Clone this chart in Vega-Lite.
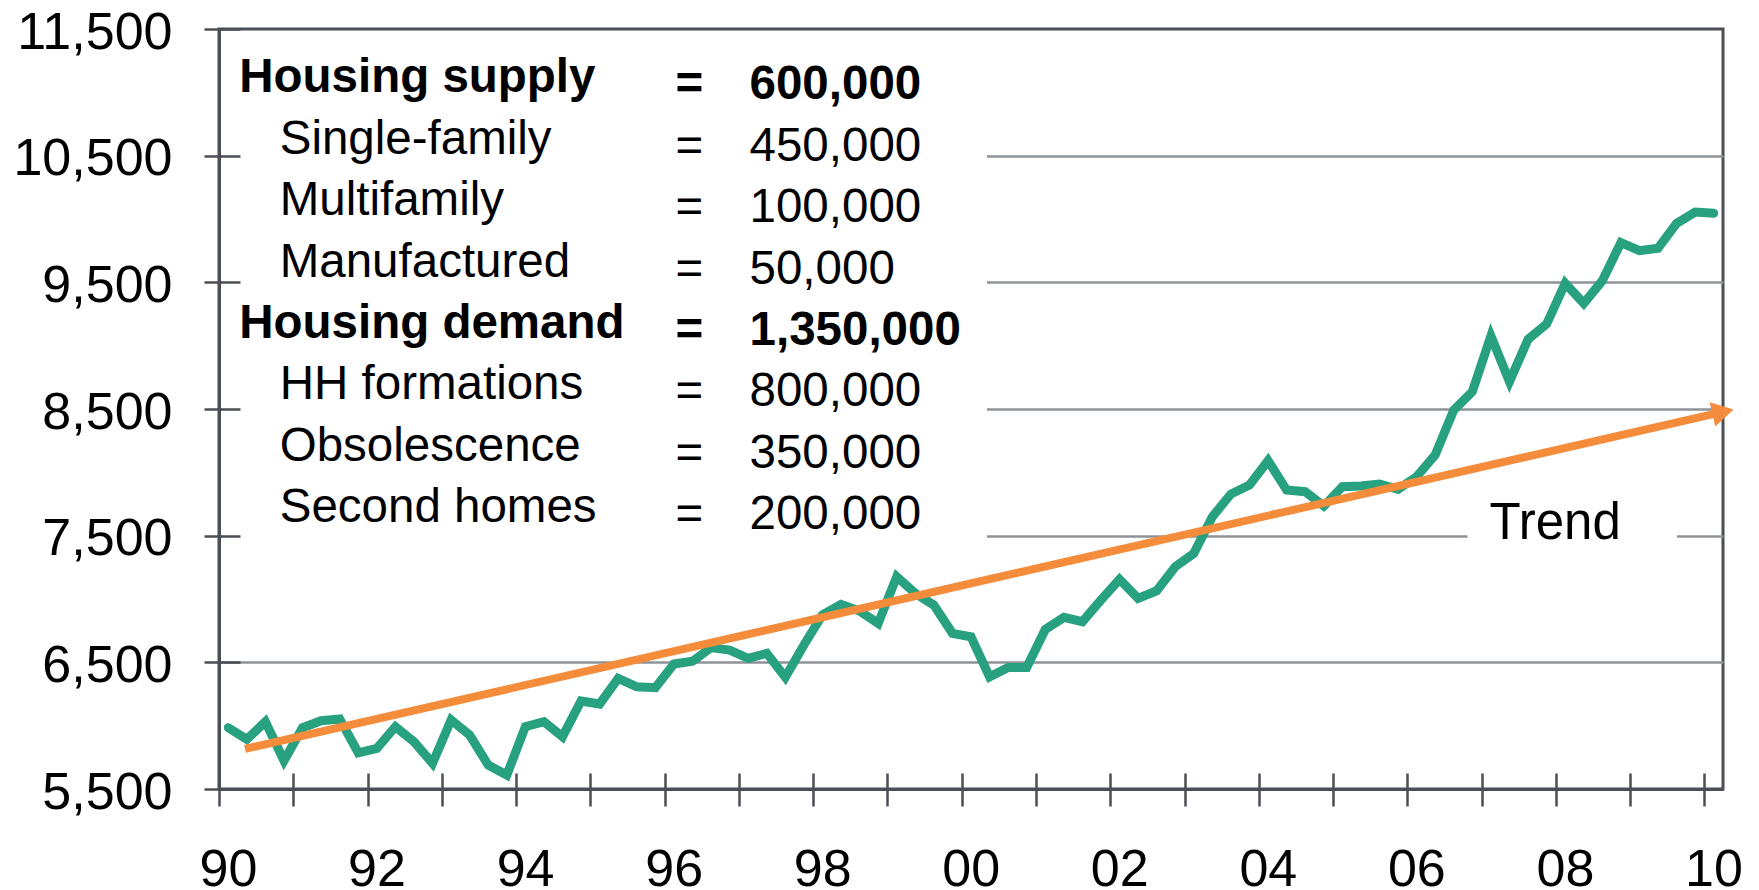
{
  "$schema": "https://vega.github.io/schema/vega-lite/v6.json",
  "width": 1504,
  "height": 760,
  "autosize": {"type": "none"},
  "padding": {"left": 219, "top": 29, "right": 36, "bottom": 101},
  "background": "white",
  "config": {
    "view": {"stroke": "#4a4f55", "strokeWidth": 3},
    "font": "Liberation Sans",
    "text": {"font": "Liberation Sans", "color": "#000000"}
  },
  "data": {"values": [{}]},
  "datasets": {
    "series": [
      {"t": 1990.125, "v": 5984}, {"t": 1990.375, "v": 5892}, {"t": 1990.625, "v": 6031}, {"t": 1990.875, "v": 5723},
      {"t": 1991.125, "v": 5984}, {"t": 1991.375, "v": 6039}, {"t": 1991.625, "v": 6053}, {"t": 1991.875, "v": 5786},
      {"t": 1992.125, "v": 5821}, {"t": 1992.375, "v": 5992}, {"t": 1992.625, "v": 5873}, {"t": 1992.875, "v": 5703},
      {"t": 1993.125, "v": 6045}, {"t": 1993.375, "v": 5926}, {"t": 1993.625, "v": 5689}, {"t": 1993.875, "v": 5610},
      {"t": 1994.125, "v": 5992}, {"t": 1994.375, "v": 6031}, {"t": 1994.625, "v": 5913}, {"t": 1994.875, "v": 6195},
      {"t": 1995.125, "v": 6171}, {"t": 1995.375, "v": 6374}, {"t": 1995.625, "v": 6307}, {"t": 1995.875, "v": 6300},
      {"t": 1996.125, "v": 6487}, {"t": 1996.375, "v": 6508}, {"t": 1996.625, "v": 6616}, {"t": 1996.875, "v": 6597},
      {"t": 1997.125, "v": 6532}, {"t": 1997.375, "v": 6571}, {"t": 1997.625, "v": 6382}, {"t": 1997.875, "v": 6637},
      {"t": 1998.125, "v": 6874}, {"t": 1998.375, "v": 6958}, {"t": 1998.625, "v": 6905}, {"t": 1998.875, "v": 6808},
      {"t": 1999.125, "v": 7176}, {"t": 1999.375, "v": 7045}, {"t": 1999.625, "v": 6952}, {"t": 1999.875, "v": 6729},
      {"t": 2000.125, "v": 6702}, {"t": 2000.375, "v": 6386}, {"t": 2000.625, "v": 6460}, {"t": 2000.875, "v": 6460},
      {"t": 2001.125, "v": 6760}, {"t": 2001.375, "v": 6855}, {"t": 2001.625, "v": 6821}, {"t": 2001.875, "v": 6992},
      {"t": 2002.125, "v": 7155}, {"t": 2002.375, "v": 7005}, {"t": 2002.625, "v": 7065}, {"t": 2002.875, "v": 7255},
      {"t": 2003.125, "v": 7360}, {"t": 2003.375, "v": 7650}, {"t": 2003.625, "v": 7829}, {"t": 2003.875, "v": 7900},
      {"t": 2004.125, "v": 8092}, {"t": 2004.375, "v": 7860}, {"t": 2004.625, "v": 7847}, {"t": 2004.875, "v": 7734},
      {"t": 2005.125, "v": 7887}, {"t": 2005.375, "v": 7892}, {"t": 2005.625, "v": 7908}, {"t": 2005.875, "v": 7866},
      {"t": 2006.125, "v": 7966}, {"t": 2006.375, "v": 8137}, {"t": 2006.625, "v": 8492}, {"t": 2006.875, "v": 8637},
      {"t": 2007.125, "v": 9076}, {"t": 2007.375, "v": 8716}, {"t": 2007.625, "v": 9050}, {"t": 2007.875, "v": 9171},
      {"t": 2008.125, "v": 9492}, {"t": 2008.375, "v": 9334}, {"t": 2008.625, "v": 9513}, {"t": 2008.875, "v": 9813},
      {"t": 2009.125, "v": 9750}, {"t": 2009.375, "v": 9769}, {"t": 2009.625, "v": 9966}, {"t": 2009.875, "v": 10055},
      {"t": 2010.125, "v": 10045}
    ],
    "trend": [
      {"t": 1990.35, "v": 5816, "end": false},
      {"t": 2010.25, "v": 8477, "end": true}
    ],
    "balance": [
      {"row": 1, "item": "Housing supply", "amount": "600,000", "kind": "total"},
      {"row": 2, "item": "Single-family", "amount": "450,000", "kind": "component"},
      {"row": 3, "item": "Multifamily", "amount": "100,000", "kind": "component"},
      {"row": 4, "item": "Manufactured", "amount": "50,000", "kind": "component"},
      {"row": 5, "item": "Housing demand", "amount": "1,350,000", "kind": "total"},
      {"row": 6, "item": "HH formations", "amount": "800,000", "kind": "component"},
      {"row": 7, "item": "Obsolescence", "amount": "350,000", "kind": "component"},
      {"row": 8, "item": "Second homes", "amount": "200,000", "kind": "component"}
    ]
  },
  "resolve": {"scale": {"y": "independent"}, "axis": {"x": "independent", "y": "independent"}},
  "layer": [
    {
      "mark": {"type": "rect", "fill": "white"},
      "encoding": {
        "x": {"datum": 1990.04, "type": "quantitative", "axis": null},
        "x2": {"datum": 2000.34},
        "y": {"datum": 7100, "type": "quantitative", "scale": {"domain": [5500, 11500], "nice": false, "zero": false}, "axis": null},
        "y2": {"datum": 11300}
      }
    },
    {
      "mark": {"type": "rect", "fill": "white"},
      "encoding": {
        "x": {"datum": 2006.81, "type": "quantitative", "axis": null},
        "x2": {"datum": 2009.63},
        "y": {"datum": 7430, "type": "quantitative", "scale": {"domain": [5500, 11500], "nice": false, "zero": false}, "axis": null},
        "y2": {"datum": 7570}
      }
    },
    {
      "data": {"name": "series"},
      "mark": {"type": "line", "color": "#27a17f", "strokeWidth": 9, "strokeCap": "round", "strokeJoin": "miter"},
      "encoding": {
        "x": {
          "field": "t", "type": "quantitative",
          "scale": {"domain": [1990, 2010.25], "nice": false, "zero": false},
          "axis": {
            "orient": "bottom", "title": null, "zindex": 0,
            "values": [1990,1991,1992,1993,1994,1995,1996,1997,1998,1999,2000,2001,2002,2003,2004,2005,2006,2007,2008,2009,2010],
            "labelExpr": "datum.value % 2 == 0 ? slice(format(datum.value, 'd'), 2) : ''",
            "grid": false, "domain": true, "domainColor": "#4a4f55", "domainWidth": 3,
            "ticks": true, "tickSize": 17, "tickColor": "#4a4f55", "tickWidth": 2.5,
            "labelFont": "Liberation Sans", "labelFontSize": 52, "labelColor": "#000000",
            "labelPadding": 38, "labelOffset": 9, "labelFlush": false, "labelOverlap": false,
            "labelBaseline": "top", "labelAlign": "center", "labelBound": false
          }
        },
        "y": {
          "field": "v", "type": "quantitative",
          "scale": {"domain": [5500, 11500], "nice": false, "zero": false},
          "axis": {
            "orient": "left", "title": null, "zindex": 0,
            "values": [5500, 6500, 7500, 8500, 9500, 10500, 11500],
            "labelExpr": "format(datum.value, ',')",
            "grid": true, "gridWidth": 2.5,
            "gridColor": {"condition": {"test": "datum.value == 5500 || datum.value == 11500", "value": "transparent"}, "value": "#8e9297"},
            "domain": true, "domainColor": "#4a4f55", "domainWidth": 3,
            "ticks": true, "tickSize": 15, "tickColor": "#4a4f55", "tickWidth": 2.5,
            "labelFont": "Liberation Sans", "labelFontSize": 52, "labelColor": "#000000",
            "labelPadding": 32, "labelOffset": 3, "labelFlush": false, "labelOverlap": false,
            "labelAlign": "right", "labelBaseline": "middle", "labelBound": false
          }
        }
      }
    },
    {
      "data": {"name": "trend"},
      "mark": {"type": "line", "color": "#f48c3c", "strokeWidth": 8, "strokeCap": "butt"},
      "encoding": {
        "x": {
          "field": "t", "type": "quantitative",
          "axis": {
            "orient": "bottom", "title": null, "zindex": 1,
            "values": [1990,1991,1992,1993,1994,1995,1996,1997,1998,1999,2000,2001,2002,2003,2004,2005,2006,2007,2008,2009,2010],
            "labels": false, "grid": false, "domain": false,
            "ticks": true, "tickSize": -16, "tickColor": "#4a4f55", "tickWidth": 2.5
          }
        },
        "y": {
          "field": "v", "type": "quantitative",
          "scale": {"domain": [5500, 11500], "nice": false, "zero": false},
          "axis": {
            "orient": "left", "title": null, "zindex": 1,
            "values": [5500, 6500, 7500, 8500, 9500, 10500, 11500],
            "labels": false, "grid": false, "domain": false,
            "ticks": true, "tickSize": -21, "tickColor": "#4a4f55", "tickWidth": 2.5
          }
        }
      }
    },
    {
      "data": {"name": "trend"},
      "transform": [{"filter": "datum.end"}],
      "mark": {"type": "point", "shape": "triangle-right", "filled": true, "size": 620, "angle": 347.1, "color": "#f48c3c", "opacity": 1, "strokeWidth": 0},
      "encoding": {
        "x": {"field": "t", "type": "quantitative", "axis": null},
        "y": {"field": "v", "type": "quantitative", "scale": {"domain": [5500, 11500], "nice": false, "zero": false}, "axis": null}
      }
    },
    {
      "mark": {"type": "text", "text": "Trend", "fontSize": 51, "align": "center", "baseline": "middle", "color": "#000000"},
      "encoding": {
        "x": {"datum": 2007.99, "type": "quantitative", "axis": null},
        "y": {"datum": 7596, "type": "quantitative", "scale": {"domain": [5500, 11500], "nice": false, "zero": false}, "axis": null}
      }
    },
    {
      "data": {"name": "balance"},
      "transform": [{"filter": "datum.kind == 'total'"}],
      "mark": {"type": "text", "fontSize": 47.5, "fontWeight": "bold", "align": "left", "baseline": "middle", "color": "#000000"},
      "encoding": {
        "x": {"datum": 1990.272, "type": "quantitative", "axis": null},
        "y": {"field": "row", "type": "quantitative", "scale": {"domain": [0.197, 12.575], "reverse": true, "nice": false, "zero": false}, "axis": null},
        "text": {"field": "item"}
      }
    },
    {
      "data": {"name": "balance"},
      "transform": [{"filter": "datum.kind == 'component'"}],
      "mark": {"type": "text", "fontSize": 47.5, "align": "left", "baseline": "middle", "color": "#000000"},
      "encoding": {
        "x": {"datum": 1990.8175, "type": "quantitative", "axis": null},
        "y": {"field": "row", "type": "quantitative", "scale": {"domain": [0.197, 12.575], "reverse": true, "nice": false, "zero": false}, "axis": null},
        "text": {"field": "item"}
      }
    },
    {
      "data": {"name": "balance"},
      "transform": [{"filter": "datum.kind == 'total'"}],
      "mark": {"type": "text", "text": "=", "fontSize": 47.5, "fontWeight": "bold", "align": "center", "baseline": "middle", "dy": 7, "color": "#000000"},
      "encoding": {
        "x": {"datum": 1996.333, "type": "quantitative", "axis": null},
        "y": {"field": "row", "type": "quantitative", "scale": {"domain": [0.197, 12.575], "reverse": true, "nice": false, "zero": false}, "axis": null}
      }
    },
    {
      "data": {"name": "balance"},
      "transform": [{"filter": "datum.kind == 'component'"}],
      "mark": {"type": "text", "text": "=", "fontSize": 47.5, "align": "center", "baseline": "middle", "dy": 7, "color": "#000000"},
      "encoding": {
        "x": {"datum": 1996.333, "type": "quantitative", "axis": null},
        "y": {"field": "row", "type": "quantitative", "scale": {"domain": [0.197, 12.575], "reverse": true, "nice": false, "zero": false}, "axis": null}
      }
    },
    {
      "data": {"name": "balance"},
      "transform": [{"filter": "datum.kind == 'total'"}],
      "mark": {"type": "text", "fontSize": 47.5, "fontWeight": "bold", "align": "left", "baseline": "middle", "dy": 7, "color": "#000000"},
      "encoding": {
        "x": {"datum": 1997.143, "type": "quantitative", "axis": null},
        "y": {"field": "row", "type": "quantitative", "scale": {"domain": [0.197, 12.575], "reverse": true, "nice": false, "zero": false}, "axis": null},
        "text": {"field": "amount"}
      }
    },
    {
      "data": {"name": "balance"},
      "transform": [{"filter": "datum.kind == 'component'"}],
      "mark": {"type": "text", "fontSize": 47.5, "align": "left", "baseline": "middle", "dy": 7, "color": "#000000"},
      "encoding": {
        "x": {"datum": 1997.143, "type": "quantitative", "axis": null},
        "y": {"field": "row", "type": "quantitative", "scale": {"domain": [0.197, 12.575], "reverse": true, "nice": false, "zero": false}, "axis": null},
        "text": {"field": "amount"}
      }
    }
  ]
}
